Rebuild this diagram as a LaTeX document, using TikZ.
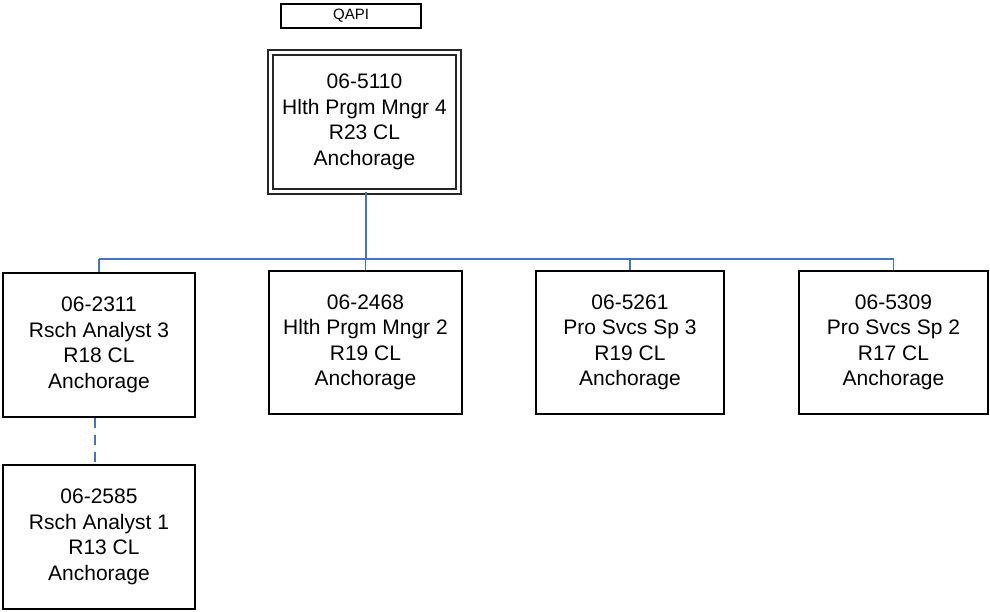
\documentclass[tikz,border=0pt]{standalone}
\usepackage{fontspec}
\setmainfont{Liberation Sans}
\begin{document}
\begin{tikzpicture}[x=1pt,y=-1pt,
  box/.style={draw=black, line width=2pt, fill=white, align=center, inner sep=0pt,
    font=\fontsize{21}{25.5}\selectfont, minimum width=#1, minimum height=144pt},
  box/.default=190pt,
  topbox/.style={draw=black!85, line width=1.6pt, double=white, double distance=3.4pt,
    align=center, inner sep=0pt, font=\fontsize{21}{25.5}\selectfont,
    minimum width=188pt, minimum height=139pt},
  lbl/.style={draw=black, line width=1.2pt, font=\fontsize{15}{17}\selectfont,
    minimum width=140pt, minimum height=24pt, inner sep=0pt},
  conn/.style={draw={rgb,255:red,68;green,114;blue,196}, line width=1.5pt},
  dconn/.style={conn, dash pattern=on 10pt off 7pt}
]
\useasboundingbox (0,0) rectangle (990,612);
\node[lbl] (qapi) at (351,16) {QAPI};
\node[topbox] (top) at (364.5,122) {06-5110\\Hlth Prgm Mngr 4\\R23 CL\\Anchorage};
\node[box=192pt] (b1) at (99,345) {06-2311\\Rsch Analyst 3\\R18 CL\\Anchorage};
\node[box=193pt, minimum height=143pt] (b2) at (365.5,342.5) {06-2468\\Hlth Prgm Mngr 2\\R19 CL\\Anchorage};
\node[box=188pt, minimum height=143pt] (b3) at (630,342.5) {06-5261\\Pro Svcs Sp 3\\R19 CL\\Anchorage};
\node[box=189pt, minimum height=143pt] (b4) at (893.5,342.5) {06-5309\\Pro Svcs Sp 2\\R17 CL\\Anchorage};
\node[box=192pt] (b5) at (99,537) {06-2585\\Rsch Analyst 1\\\hspace*{10pt}R13 CL\\Anchorage};
\coordinate (bus) at (366,259);
\draw[conn] (top.south -| bus) -- (bus);
\draw[conn] (bus -| b1.north) -- (bus -| b4.north);
\draw[conn] (bus -| b1.north) -- (b1.north);
\draw[conn] (bus -| b2.north) -- (b2.north);
\draw[conn] (bus -| b3.north) -- (b3.north);
\draw[conn] (bus -| b4.north) -- (b4.north);
\coordinate (dx) at (95,0);
\draw[dconn] (b1.south -| dx) -- (b5.north -| dx);
\end{tikzpicture}
\end{document}
